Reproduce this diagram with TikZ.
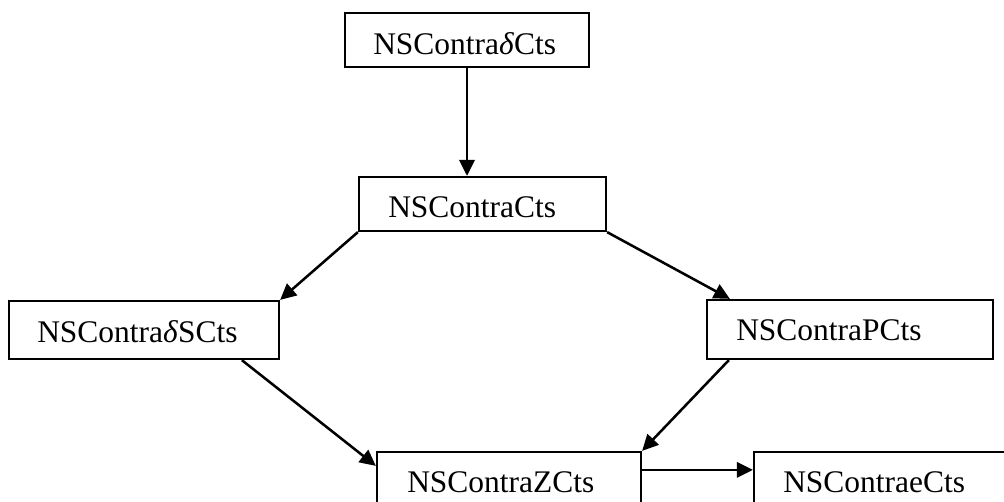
\documentclass[tikz,border=0pt]{standalone}
\usepackage{fontspec}
\setmainfont{Liberation Serif}
\usetikzlibrary{arrows.meta,fit,calc}
\begin{document}
\begin{tikzpicture}[x=0.75pt,y=-0.75pt,
  box/.style={draw=black,fill=white,line width=1.7pt,inner sep=0pt},
  lbl/.style={anchor=base west,inner sep=0pt,font=\fontsize{23.6pt}{28pt}\selectfont},
  arr/.style={line width=1.9pt,-{Triangle[length=12pt,width=11.5pt]}}]
  \useasboundingbox (0,0) rectangle (1004,502);
  \clip (0,0) rectangle (1004,502);

  % boxes
  \node[box,fit={(345,13)(589,67)}] (top) {};
  \node[box,fit={(359,177)(606,231)}] (main) {};
  \node[box,fit={(9,301)(279,359)}] (dsc) {};
  \node[box,fit={(707,300)(993,359)}] (pc) {};
  \node[box,fit={(377,452)(641,530)}] (zc) {};
  \node[box,fit={(754,452)(1030,530)}] (ec) {};

  % labels
  \node[lbl] (ttop) at (373,55) {NSContra\textit{δ}Cts};
  \node[lbl] (tmain) at (388,218) {NSContraCts};
  \node[lbl] (tdsc) at (37,343) {NSContra\textit{δ}SCts};
  \node[lbl] (tpc) at (736,341) {NSContraPCts};
  \node[lbl] (tzc) at (407,493) {NSContraZCts};
  \node[lbl] (tec) at (783,493) {NSContraeCts};

  % connectors
  \draw[arr] (top.south) -- (top.south |- main.north);
  \draw[arr] (main.south west) -- (dsc.north east);
  \draw[arr] (main.south east) -- ($(pc.north west)+(24,0)$);
  \draw[arr] ($(dsc.south west)+(234,0)$) -- ($(zc.north west)+(0,15)$);
  \draw[arr] ($(pc.south west)+(23,0)$) -- (zc.north east);
  \draw[arr] ($(zc.north east)+(0,19)$) -- ($(ec.north west)+(0,19)$);
\end{tikzpicture}
\end{document}
